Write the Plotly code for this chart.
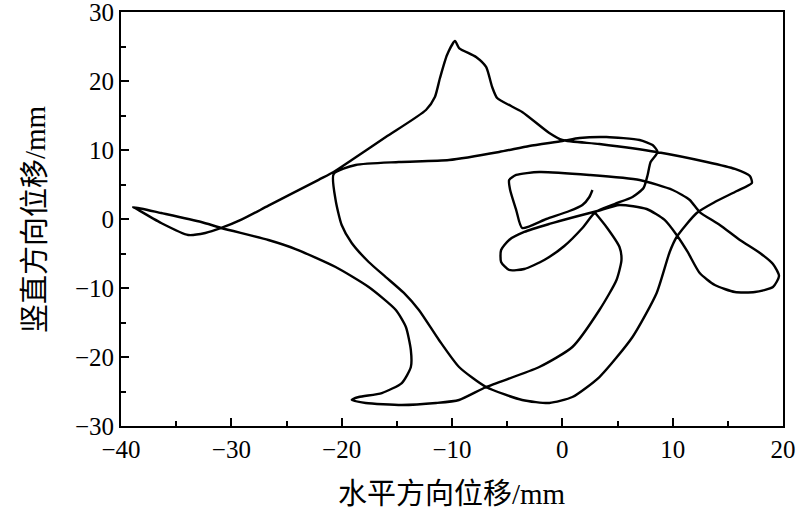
import plotly.graph_objects as go

# Trajectory (horizontal / vertical displacement, mm)
x_mm = [2.73, 2.45, 1.82, 0.64, -1.45, -3.64,
        -4.18, -4.73, -4.82, -4.18, -2.09, 2.45, 7.0, 10.0, 11.55, 12.45,
        14.27, 16.09, 17.91, 19.09, 19.64, 19.09, 17.45, 15.64, 13.82, 12.45,
        11.36, 10.36, 9.27, 7.64, 5.18, 3.18,
        1.09, -1.18, -3.45, -4.82, -5.55, -5.55, -4.82, -3.45, -1.64, 0.18, 1.82, 3.0,
        4.73, 6.36, 7.36, 7.73, 8.0, 8.64, 8.18, 7.0, 4.0, 1.55, 0.0, -3.0, -5.73,
        -10.27, -14.82, -18.73, -20.73,
        -20.55, -20.0, -19.09, -17.55, -16.0, -14.36, -13.0, -11.18, -9.36, -6.91,
        -3.64, -1.18, 0.91, 3.36, 6.36, 8.55, 9.73, 10.36, 12.18, 13.82, 15.82, 17.18,
        17.0, 15.64, 13.09, 8.55, 3.36, 0.0, -1.18, -3.64, -5.91, -6.36, -6.91, -7.82,
        -9.36, -9.73,
        -10.45, -11.09, -11.55, -12.36, -16.0, -19.09, -20.73, -22.09, -26.64, -29.09,
        -30.91, -32.36, -33.91, -36.36, -38.73, -38.9,
        -36.36, -32.73, -30.91, -26.64, -24.18, -20.55, -17.55, -15.09, -14.18, -13.73,
        -13.73, -14.55, -16.36, -18.45, -19.09, -17.82, -14.55, -11.45, -9.36, -6.91,
        -2.09, 0.91, 3.36, 4.91, 5.36, 5.18, 4.0, 2.91]
y_mm = [4.20, 3.19, 2.03, 1.16, 0.0, -1.30,
        1.30, 4.20, 5.65, 6.38, 6.81, 6.38, 5.65, 4.20, 2.75, 1.01,
        -0.87, -3.04, -4.93, -6.52, -8.26, -9.86, -10.58, -10.58, -9.57, -7.83,
        -4.78, -2.32, -0.14, 1.45, 2.03, 1.16,
        0.29, -0.72, -1.88, -3.04, -4.49, -6.23, -7.39, -7.25, -5.94, -3.91, -1.30, 1.01,
        2.17, 3.19, 4.49, 6.38, 8.26, 9.71, 10.72, 11.45, 11.88, 11.74, 11.30, 10.58, 9.71,
        8.55, 8.26, 7.83, 6.52,
        2.75, -0.87, -3.48, -6.23, -8.41, -10.72, -13.19, -17.54, -21.45, -24.35,
        -26.23, -26.67, -25.80, -22.90, -17.10, -10.72, -4.78, -2.61, 0.87, 2.46, 4.06, 5.22,
        6.23, 7.25, 8.26, 9.71, 10.87, 11.45, 12.46, 15.51, 17.54, 19.13, 22.03, 23.48,
        24.78, 25.80,
        23.77, 20.43, 17.68, 15.80, 11.88, 8.55, 6.81, 5.68, 1.93, -0.10,
        -1.30, -2.03, -2.32, -0.58, 1.59, 1.74,
        0.87, -0.43, -1.30, -3.04, -4.35, -6.96, -9.86, -13.19, -15.65, -18.99,
        -21.45, -23.77, -25.22, -25.80, -26.23, -26.67, -26.96, -26.67, -26.23, -24.35,
        -21.45, -18.55, -13.19, -8.84, -5.94, -4.06, -1.16, 1.01]

x_ticks = [-40, -30, -20, -10, 0, 10, 20]
y_ticks = [-30, -20, -10, 0, 10, 20, 30]
x_title = "水平方向位移/mm"
y_title = "竖直方向位移/mm"

FONT = "Liberation Serif, Times New Roman, Noto Sans CJK SC, serif"

fig = go.Figure()
fig.add_trace(go.Scatter(
    x=x_mm, y=y_mm, mode="lines",
    line=dict(color="black", width=2.4, shape="spline", smoothing=0.6),
    showlegend=False, hoverinfo="skip"))

axis_common = dict(
    showgrid=False, zeroline=False, showline=True, linecolor="black",
    linewidth=2, mirror=True, ticks="inside", ticklen=8, tickwidth=1.5,
    tickcolor="black", tickfont=dict(family=FONT, size=25, color="black"),
    automargin=False, ticklabeloverflow="allow",
)

fig.update_xaxes(range=[-40, 20], tickvals=x_ticks,
                 minor=dict(ticks="inside", ticklen=5, tickwidth=1.5,
                            tickcolor="black", dtick=5),
                 **axis_common)
fig.update_yaxes(range=[-30, 30], tickvals=y_ticks,
                 minor=dict(ticks="inside", ticklen=5, tickwidth=1.5,
                            tickcolor="black", dtick=5),
                 **axis_common)

fig.add_annotation(text=x_title, xref="paper", yref="paper", x=0.5, y=0,
                   yshift=-68, showarrow=False, yanchor="middle",
                   font=dict(family=FONT, size=29, color="black"))
fig.add_annotation(text=y_title, xref="paper", yref="paper", x=0, y=0.5,
                   xshift=-86, showarrow=False, textangle=-90, xanchor="center",
                   font=dict(family=FONT, size=29, color="black"))

fig.update_layout(
    width=800, height=514,
    margin=dict(l=121, r=17, t=12, b=88, autoexpand=False),
    paper_bgcolor="white", plot_bgcolor="white",
)

fig.write_html(
    "out.html",
    config={"displayModeBar": False},
    post_script="document.body.style.margin='0';document.body.style.overflow='hidden';",
)
